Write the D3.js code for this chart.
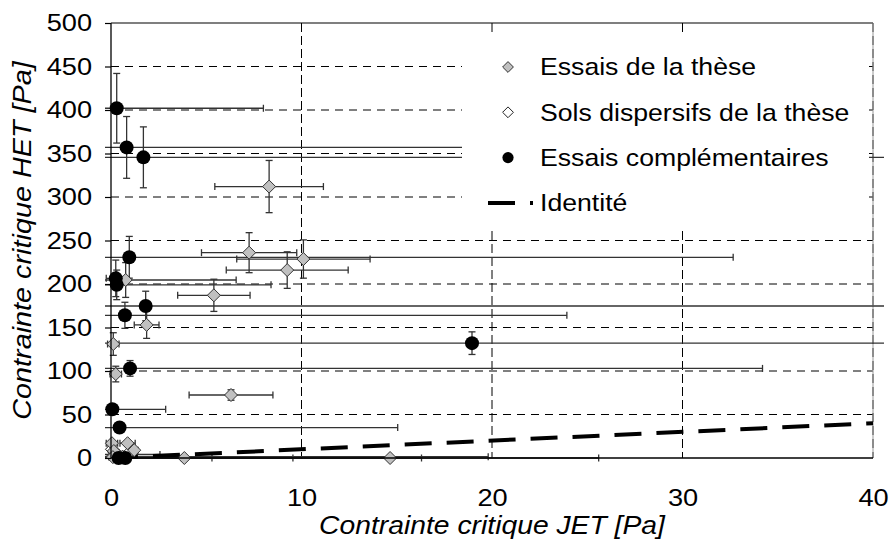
<!DOCTYPE html>
<html>
<head>
<meta charset="utf-8">
<script src="https://cdn.jsdelivr.net/npm/d3@7"></script>
<style>
  body { margin: 0; background: #fff; }
  svg { display: block; }
  text { font-family: "Liberation Sans", Arial, sans-serif; fill: #000; }
</style>
</head>
<body>
<svg id="chart" width="893" height="539"></svg>
<script>
// Essais de la thèse (grey diamonds): JET, HET and their error half-widths [Pa]
const theseJet    = [8.3, 7.25, 10.1, 9.25, 5.4, 1.87, 0.12, 0.77, 0.25, 6.3, 3.85, 14.65, 0.05, 0.87, 1.22, 0.15, 0.1];
const theseHet    = [312, 236, 228.7, 216, 187, 153, 131, 204.6, 96.5, 72.4, 0, 0, 17, 17, 9, 8, 1];
const theseJetErr = [2.85, 2.5, 3.5, 3.2, 1.9, 0.65, 0.3, 5.8, 0.3, 2.2, 5.7, 10.95, 0.3, 0.4, 0.2, 0.2, 0.2];
const theseHetErr = [30, 23, 22, 21, 18.5, 15.5, 13, 20, 9, 6, 1, 1, 3, 3, 3, 2, 1];

// Sols dispersifs de la thèse (white diamonds)
const dispJet    = [0.05, 0.3, 0.4, 0.1, 0.6, 0.9];
const dispHet    = [10, 4, 3, 2, 1.5, 5];
const dispJetErr = [0.2, 2.27, 0.2, 0.2, 19.2, 0.2];
const dispHetErr = [2, 1, 1, 1, 1, 2];

// Essais complémentaires (black dots)
const compJet    = [0.3, 0.82, 1.7, 0.96, 0.25, 0.3, 1.82, 0.73, 18.95, 1.0, 0.07, 0.45, 0.4, 0.75];
const compHet    = [402, 357, 345.6, 230.7, 206.5, 199, 174.7, 164, 132, 103, 56, 35, 0, 0];
const compJetErr = [7.7, 30, 45, 31.7, 0.5, 8.1, 45, 23.2, 25, 33.2, 2.8, 14.6, 4.9, 15.55];
const compHetErr = [40, 35.5, 35, 24, 21, 17, 17, 15, 13, 9, 5, 4, 1, 1];

// Axes
const xTicks = [0, 10, 20, 30, 40];
const yTicks = [0, 50, 100, 150, 200, 250, 300, 350, 400, 450, 500];
const identity = [0, 40];

const legendLabels = ["Essais de la thèse", "Sols dispersifs de la thèse", "Essais complémentaires", "Identité"];

const svg = d3.select("#chart");
const plotLeft = 111, plotRight = 873, plotTop = 23, plotBottom = 458;
const textStretch = 1.11;   // glyphs are set slightly wide

const x = d3.scaleLinear().domain([0, 40]).range([plotLeft, plotRight]);
const y = d3.scaleLinear().domain([0, 500]).range([plotBottom, plotTop]);

const toRows = (jx, jy, ex, ey) => jx.map((v, i) => ({ x: v, y: jy[i], ex: ex[i], ey: ey[i] }));
const these = toRows(theseJet, theseHet, theseJetErr, theseHetErr);
const disp = toRows(dispJet, dispHet, dispJetErr, dispHetErr);
const comp = toRows(compJet, compHet, compJetErr, compHetErr);

// Grid
const grid = svg.append("g");
grid.selectAll("line.h").data(yTicks.filter(t => t > 0 && t < 500)).join("line")
  .attr("class", "h")
  .attr("x1", plotLeft).attr("x2", plotRight)
  .attr("y1", d => y(d)).attr("y2", d => y(d))
  .attr("stroke", "#000").attr("stroke-width", 1).attr("stroke-dasharray", "8,6");
grid.selectAll("line.v").data(xTicks.filter(t => t > 0)).join("line")
  .attr("class", "v")
  .attr("x1", d => x(d)).attr("x2", d => x(d))
  .attr("y1", plotTop).attr("y2", plotBottom)
  .attr("stroke", "#000").attr("stroke-width", 1).attr("stroke-dasharray", "9,4");

// Frame: top border solid, right edge light grey under the dashed grid line
svg.append("line").attr("x1", plotLeft).attr("x2", plotRight).attr("y1", plotTop).attr("y2", plotTop)
  .attr("stroke", "#000").attr("stroke-width", 1.2);
svg.append("line").attr("x1", plotRight).attr("x2", plotRight).attr("y1", plotTop).attr("y2", plotBottom)
  .attr("stroke", "#999").attr("stroke-width", 1);

// Error bars are clipped a little outside the plot frame
const clipX0 = x(0) - 6, clipX1 = x(40) + 11;
svg.append("clipPath").attr("id", "errClip").append("rect")
  .attr("x", clipX0).attr("y", 0).attr("width", clipX1 - clipX0).attr("height", 539);

function errorBars(data) {
  const g = svg.append("g").attr("clip-path", "url(#errClip)")
    .attr("stroke", "#333").attr("stroke-width", 1.3).attr("fill", "none");
  const cap = 3.5;
  data.forEach(d => {
    const cx = x(d.x), cy = y(d.y);
    const x0 = x(d.x - d.ex), x1 = x(d.x + d.ex);
    const y0 = y(d.y - d.ey), y1 = y(d.y + d.ey);
    g.append("line").attr("x1", x0).attr("x2", x1).attr("y1", cy).attr("y2", cy);
    g.append("line").attr("x1", x0).attr("x2", x0).attr("y1", cy - cap).attr("y2", cy + cap);
    g.append("line").attr("x1", x1).attr("x2", x1).attr("y1", cy - cap).attr("y2", cy + cap);
    g.append("line").attr("x1", cx).attr("x2", cx).attr("y1", y0).attr("y2", y1);
    g.append("line").attr("x1", cx - cap).attr("x2", cx + cap).attr("y1", y0).attr("y2", y0);
    g.append("line").attr("x1", cx - cap).attr("x2", cx + cap).attr("y1", y1).attr("y2", y1);
  });
}
errorBars(these);
errorBars(disp);
errorBars(comp);

// Identity line y = x
svg.append("line")
  .attr("x1", x(identity[0])).attr("y1", y(identity[0]))
  .attr("x2", x(identity[1])).attr("y2", y(identity[1]))
  .attr("stroke", "#000").attr("stroke-width", 4).attr("stroke-dasharray", "27,15");

const diamond = r => `M0,${-r}L${r},0L0,${r}L${-r},0Z`;

svg.append("g").selectAll("path").data(disp).join("path")
  .attr("d", diamond(6.5)).attr("transform", d => `translate(${x(d.x)},${y(d.y)})`)
  .attr("fill", "#fff").attr("stroke", "#222").attr("stroke-width", 1);
svg.append("g").selectAll("path").data(these).join("path")
  .attr("d", diamond(6.5)).attr("transform", d => `translate(${x(d.x)},${y(d.y)})`)
  .attr("fill", "#c0c0c0").attr("stroke", "#333").attr("stroke-width", 1);
svg.append("g").selectAll("circle").data(comp).join("circle")
  .attr("cx", d => x(d.x)).attr("cy", d => y(d.y)).attr("r", 7)
  .attr("fill", "#000");

// Axes
svg.append("line").attr("x1", plotLeft).attr("x2", plotLeft).attr("y1", plotTop).attr("y2", plotBottom)
  .attr("stroke", "#000").attr("stroke-width", 1.3);
svg.append("line").attr("x1", plotLeft).attr("x2", plotRight).attr("y1", plotBottom).attr("y2", plotBottom)
  .attr("stroke", "#000").attr("stroke-width", 1.3);

const yAxis = svg.append("g").attr("transform", `translate(${plotLeft},0)`)
  .call(d3.axisLeft(y).tickValues(yTicks).tickSize(6).tickPadding(13).tickFormat(d3.format("d")));
yAxis.select(".domain").remove();
yAxis.selectAll("line").attr("stroke", "#000").attr("stroke-width", 1.2);
yAxis.selectAll("text").style("font-size", "24.5px").attr("fill", "#000")
  .attr("x", -19 / textStretch).attr("transform", `scale(${textStretch},1)`);

const xAxis = svg.append("g").attr("transform", `translate(0,${plotBottom})`)
  .call(d3.axisBottom(x).tickValues(xTicks).tickSize(0).tickPadding(31).tickFormat(d3.format("d")));
xAxis.select(".domain").remove();
xAxis.selectAll("text").style("font-size", "24.5px").attr("fill", "#000")
  .attr("transform", `scale(${textStretch},1)`);

// Axis titles
svg.append("text")
  .attr("transform", `translate(${(plotLeft + plotRight) / 2},534) scale(${textStretch},1)`)
  .attr("text-anchor", "middle").style("font-size", "25.5px").style("font-style", "italic")
  .text("Contrainte critique JET [Pa]");
svg.append("text")
  .attr("transform", `translate(31,${(plotTop + plotBottom) / 2}) rotate(-90) scale(1.13,1)`)
  .attr("text-anchor", "middle").style("font-size", "25.5px").style("font-style", "italic")
  .text("Contrainte critique HET [Pa]");

// Legend
const lg = svg.append("g");
lg.append("rect").attr("x", 462).attr("y", 36).attr("width", 407).attr("height", 191).attr("fill", "#fff");
const rowY = i => 67 + i * 45.3;
lg.append("path").attr("d", diamond(5.4)).attr("transform", `translate(508,${rowY(0)})`)
  .attr("fill", "#c0c0c0").attr("stroke", "#333");
lg.append("path").attr("d", diamond(5.4)).attr("transform", `translate(508,${rowY(1)})`)
  .attr("fill", "#fff").attr("stroke", "#222");
lg.append("circle").attr("cx", 508).attr("cy", rowY(2)).attr("r", 5.6).attr("fill", "#000");
lg.append("line").attr("x1", 488).attr("x2", 533).attr("y1", rowY(3)).attr("y2", rowY(3))
  .attr("stroke", "#000").attr("stroke-width", 4).attr("stroke-dasharray", "27,15");
lg.selectAll("text").data(legendLabels).join("text")
  .attr("transform", (d, i) => `translate(540,${rowY(i)}) scale(${textStretch},1)`)
  .attr("dy", "0.35em")
  .style("font-size", "24px").text(d => d);
</script>
</body>
</html>
